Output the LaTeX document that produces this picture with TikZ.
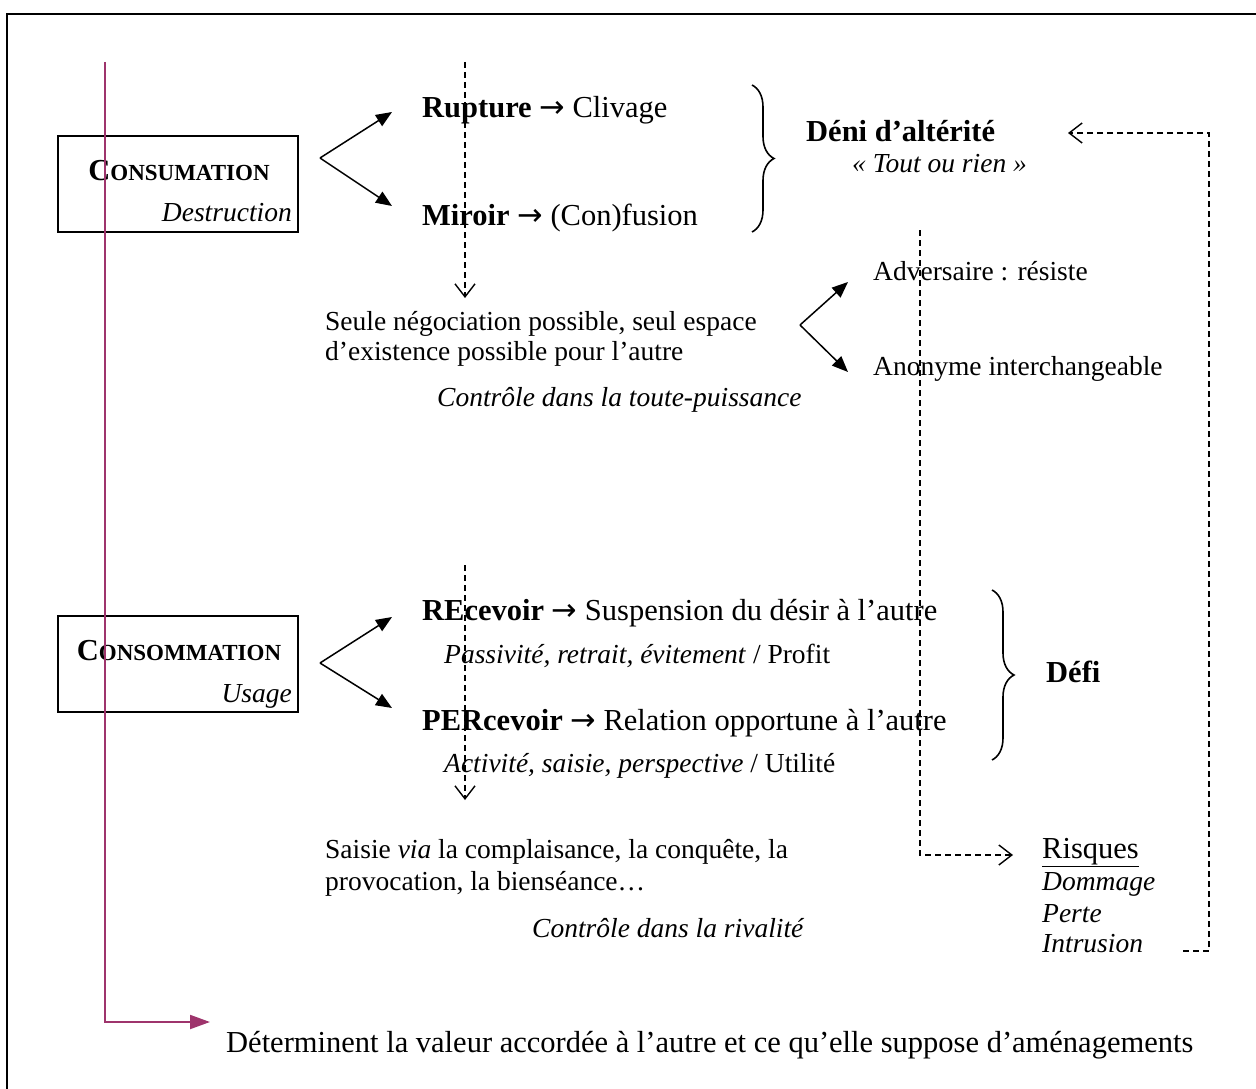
\documentclass[tikz,border=0pt]{standalone}
\usepackage{fontspec}
\setmainfont{Liberation Serif}
\newfontfamily\arrfont{DejaVu Sans}
\usetikzlibrary{arrows.meta,decorations.pathreplacing}
\definecolor{plum}{RGB}{158,52,108}
\newcommand{\fsz}{\fontsize{27.5}{32}\selectfont}
\newcommand{\fbig}{\fontsize{30.5}{36}\selectfont}
\newcommand{\smc}{\fontsize{23}{26}\selectfont}
\newcommand{\ar}{{\arrfont\mdseries →}}
\begin{document}
\begin{tikzpicture}[x=1pt,y=-1pt,
  txt/.style={anchor=base west,inner sep=0pt,font=\fsz},
  big/.style={anchor=base west,inner sep=0pt,font=\fbig},
  txte/.style={anchor=base east,inner sep=0pt,font=\fsz},
  forkarrow/.style={line width=1.5pt,-{Triangle[length=16pt,width=13pt]}},
  dasharrow/.style={line width=1.4pt,dash pattern=on 6pt off 4pt,-{Straight Barb[length=13pt,width=20pt,line width=1.4pt]}},
  boxnode/.style={draw,line width=1.8pt,minimum width=240pt,minimum height=96pt,anchor=north west,inner sep=0pt},
  bracestyle/.style={line width=1.6pt,decorate,decoration={brace,amplitude=22pt}}]
\useasboundingbox (0,0) rectangle (1256,1089);
% frame
\draw[line width=2.2pt] (7,1089) -- (7,14) -- (1256,14);

% boxes
\node[boxnode] (b1) at (57,135) {};
\node[big,anchor=base] (b1t) at (179,180) {\bfseries C\smc ONSUMATION};
\node[txte] (b1s) at (292,222) {\itshape Destruction};
\node[boxnode] (b2) at (57,615) {};
\node[big,anchor=base] (b2t) at (179,660) {\bfseries C\smc ONSOMMATION};
\node[txte] (b2s) at (292,702) {\itshape Usage};

% top block
\node[big] (rup) at (422,118) {\textbf{Rupture} \ar{} Clivage};
\node[big] (mir) at (422,225) {\textbf{Miroir} \ar{} (Con)fusion};
\node[big] (deni) at (806,142) {\bfseries Déni d’altérité};
\node[txt] (tout) at (852,172) {\itshape « Tout ou rien »};
\node[txt] (seule1) at (325,330) {Seule négociation possible, seul espace};
\node[txt] (seule2) at (325,360) {d’existence possible pour l’autre};
\node[txt] (ctrl1) at (437,406) {\itshape Contrôle dans la toute-puissance};
\node[txt] (adv) at (873,280) {Adversaire : résiste};
\node[txt] (ano) at (873,375) {Anonyme interchangeable};

% bottom block
\node[big] (rec) at (422,620) {\textbf{REcevoir} \ar{} Suspension du désir à l’autre};
\node[txt] (pas) at (444,663) {\textit{Passivité, retrait, évitement} / Profit};
\node[big] (per) at (422,730) {\textbf{PERcevoir} \ar{} Relation opportune à l’autre};
\node[txt] (act) at (444,772) {\textit{Activité, saisie, perspective} / Utilité};
\node[big] (defi) at (1046,682) {\bfseries Défi};
\node[txt] (sai1) at (325,858) {Saisie \textit{via} la complaisance, la conquête, la};
\node[txt] (sai2) at (325,890) {provocation, la bienséance…};
\node[txt] (ctrl2) at (532,937) {\itshape Contrôle dans la rivalité};
\node[big] (ris) at (1042,858) {\underline{Risques}};
\node[txt] (dom) at (1042,890) {\itshape Dommage};
\node[txt] (per2) at (1042,922) {\itshape Perte};
\node[txt] (intr) at (1042,952) {\itshape Intrusion};
\node[big] (det) at (226,1052) {Déterminent la valeur accordée à l’autre et ce qu’elle suppose d’aménagements};

% forks
\coordinate (f1) at (320,158);
\coordinate (f1a) at (392,112);
\coordinate (f1b) at (392,206);
\draw[forkarrow] (f1) -- (f1a);
\draw[forkarrow] (f1) -- (f1b);
\coordinate (f2) at (800,325);
\coordinate (f2a) at (848,282);
\coordinate (f2b) at (848,372);
\draw[forkarrow] (f2) -- (f2a);
\draw[forkarrow] (f2) -- (f2b);
\coordinate (f3) at (320,663);
\coordinate (f3a) at (392,617);
\coordinate (f3b) at (392,708);
\draw[forkarrow] (f3) -- (f3a);
\draw[forkarrow] (f3) -- (f3b);

% braces
\coordinate (br1t) at (752,85);
\coordinate (br1b) at (752,232);
\draw[bracestyle] (br1t) -- (br1b);
\coordinate (br2t) at (992,590);
\coordinate (br2b) at (992,760);
\draw[bracestyle] (br2t) -- (br2b);

% dashed arrows
\coordinate (d1s) at (465,62);
\coordinate (d1e) at (465,298);
\draw[dasharrow] (d1s) -- (d1e);
\coordinate (d2s) at (465,565);
\coordinate (d2e) at (465,800);
\draw[dasharrow] (d2s) -- (d2e);
\coordinate (d3s) at (920,230);
\coordinate (d3c) at (920,855);
\coordinate (d3e) at (1013,855);
\draw[dasharrow] (d3s) -- (d3c) -- (d3e);
\coordinate (d4s) at (1183,951);
\coordinate (d4c) at (1209,951);
\coordinate (d4d) at (1209,133);
\coordinate (d4e) at (1068,133);
\draw[dasharrow] (d4s) -- (d4c) -- (d4d) -- (d4e);

% magenta arrow
\coordinate (m1) at (105,62);
\coordinate (m2) at (105,1022);
\coordinate (m3) at (210,1022);
\draw[plum,line width=2pt,-{Triangle[length=20pt,width=14pt]}] (m1) -- (m2) -- (m3);
\end{tikzpicture}
\end{document}
